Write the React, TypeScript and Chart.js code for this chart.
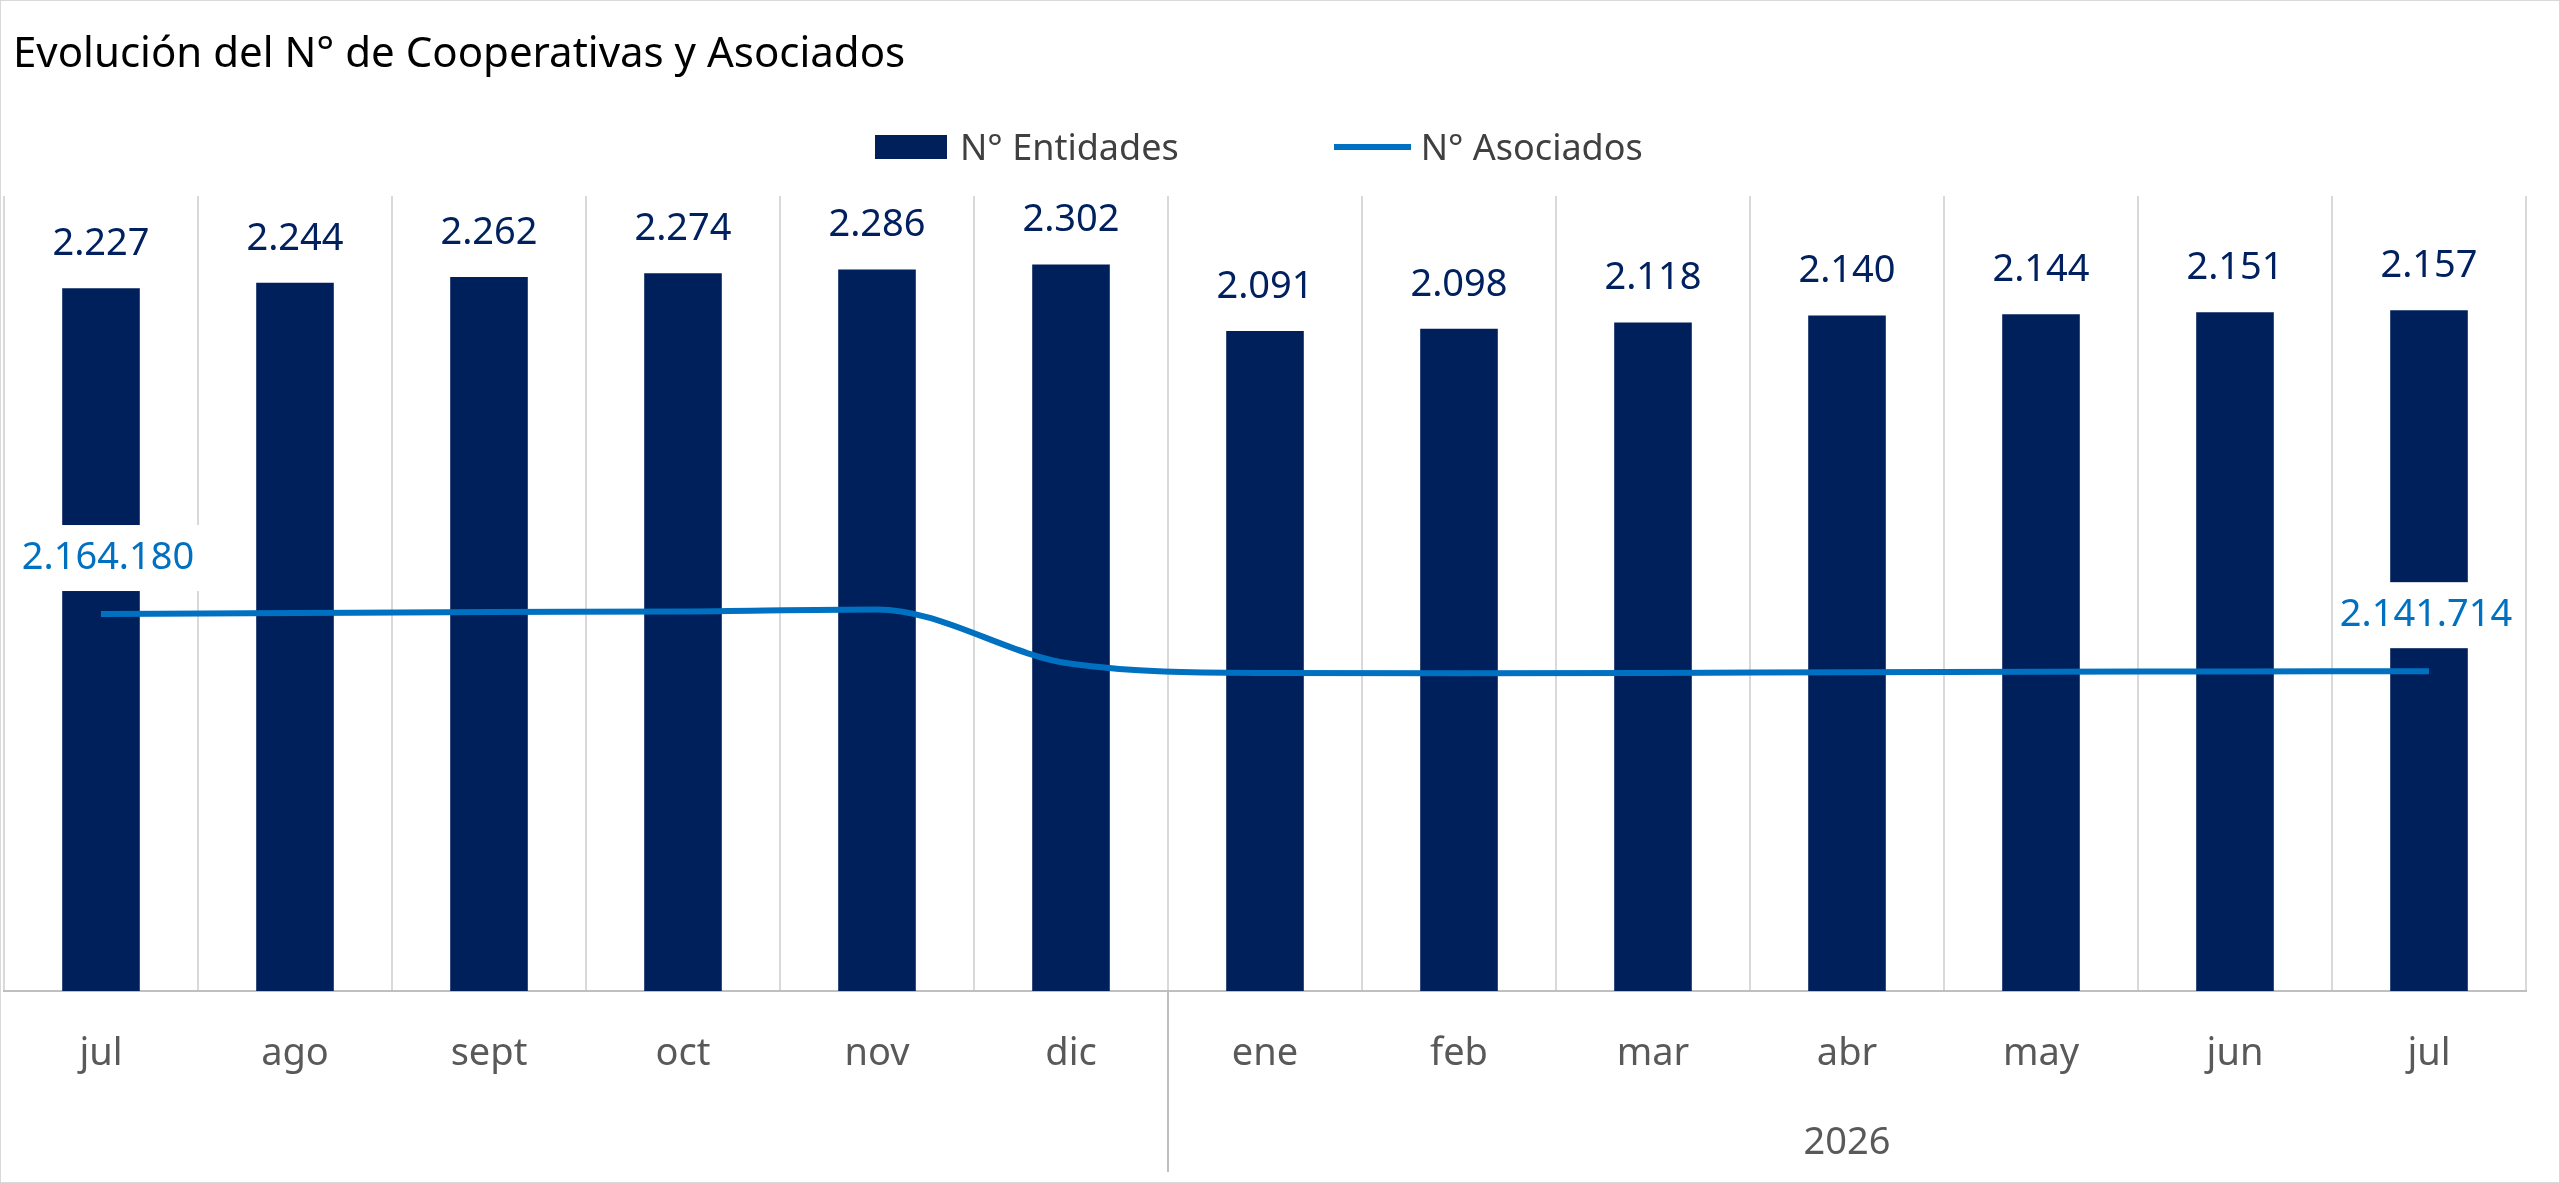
import React, { useEffect, useRef } from "react";
import { Chart, registerables } from "chart.js";
Chart.register(...registerables);

const months = ["jul", "ago", "sept", "oct", "nov", "dic", "ene", "feb", "mar", "abr", "may", "jun", "jul"];
const entidades = [2227, 2244, 2262, 2274, 2286, 2302, 2091, 2098, 2118, 2140, 2144, 2151, 2157];
const asociados = [2164180, 2164600, 2165000, 2165200, 2166000, 2144600, 2141000, 2140900, 2141000, 2141300, 2141500, 2141600, 2141714];
const yearLabel = "2026";
const yearStartIndex = 6;

const FONT = "'Noto Sans', sans-serif";
const fmt = (v: number) => v.toLocaleString("de-DE");

export default function App() {
  const ref = useRef<HTMLCanvasElement>(null);
  useEffect(() => {
    document.body.style.margin = "0";
    const labelsPlugin = {
      id: "labels",
      afterDatasetsDraw(chart: any) {
        const ctx = chart.ctx;
        ctx.save();
        const barMeta = chart.getDatasetMeta(0);
        ctx.font = `38px ${FONT}`;
        ctx.textAlign = "center";
        ctx.textBaseline = "middle";
        ctx.fillStyle = "#002060";
        barMeta.data.forEach((b: any, i: number) => {
          ctx.fillText(fmt(entidades[i]), b.x, b.y - 44);
        });
        const lineMeta = chart.getDatasetMeta(1);
        [0, asociados.length - 1].forEach((i) => {
          const p = lineMeta.data[i];
          const t = fmt(asociados[i]);
          const w = ctx.measureText(t).width;
          const x = i === 0 ? p.x + 7 : p.x - 3;
          const y = p.y - 56;
          ctx.fillStyle = "#ffffff";
          ctx.fillRect(x - w / 2 - 6, y - 33, w + 12, 66);
          ctx.fillStyle = "#0070C0";
          ctx.fillText(t, x, y);
        });
        ctx.restore();
      },
      afterDraw(chart: any) {
        const ctx = chart.ctx;
        const xs = chart.scales.x;
        const bottom = chart.chartArea.bottom;
        const step = xs.getPixelForValue(1) - xs.getPixelForValue(0);
        const sepX = xs.getPixelForValue(yearStartIndex) - step / 2;
        ctx.save();
        ctx.strokeStyle = "#bfbfbf";
        ctx.lineWidth = 2;
        ctx.beginPath();
        ctx.moveTo(sepX, bottom);
        ctx.lineTo(sepX, 1172);
        ctx.stroke();
        ctx.font = `38px ${FONT}`;
        ctx.fillStyle = "#595959";
        ctx.textAlign = "center";
        ctx.textBaseline = "middle";
        const endX = xs.getPixelForValue(months.length - 1) + step / 2;
        ctx.fillText(yearLabel, (sepX + endX) / 2, 1143);
        ctx.restore();
      },
    };
    const chart = new Chart(ref.current!, {
      type: "bar",
      data: {
        labels: months,
        datasets: [
          {
            type: "bar",
            label: "N° Entidades",
            data: entidades,
            backgroundColor: "#00205B",
            barPercentage: 0.8,
            categoryPercentage: 0.5,
            yAxisID: "y",
            order: 2,
          },
          {
            type: "line",
            label: "N° Asociados",
            data: asociados,
            borderColor: "#0070C0",
            borderWidth: 6,
            pointRadius: 0,
            tension: 0.4,
            cubicInterpolationMode: "monotone",
            yAxisID: "y1",
            order: 1,
          } as any,
        ],
      },
      options: {
        animation: false,
        responsive: false,
        layout: { padding: { top: 196, left: 4, right: 34, bottom: 0 } },
        plugins: { legend: { display: false }, title: { display: false }, tooltip: { enabled: false } },
        scales: {
          x: {
            offset: true,
            grid: { offset: true, color: "#d9d9d9", lineWidth: 2, drawTicks: false, tickBorderDash: [], },
            border: { color: "#bfbfbf", width: 2, dash: [] },
            ticks: { font: { size: 38, family: FONT }, color: "#595959", padding: 40 },
            afterFit: (a: any) => { a.height = 192; },
          } as any,
          y: { display: false, min: 0, max: 2519 },
          y1: { display: false, min: 2016000, max: 2328500 },
        },
      },
      plugins: [
        labelsPlugin,
        {
          id: "dash",
          beforeDraw(chart: any) {
            chart.options.scales.x.grid.borderDash = [10, 8];
          },
        },
      ],
    });
    (chart.options.scales as any).x.border.dash = [];
    (chart.options.scales as any).x.grid.tickBorderDash = [];
    chart.update();
    return () => chart.destroy();
  }, []);

  return (
    <div style={{ position: "relative", width: 2560, height: 1183, background: "#fff", fontFamily: FONT }}>
      <canvas ref={ref} width={2560} height={1183} style={{ position: "absolute", left: 0, top: 0, width: 2560, height: 1183 }} />
      <div style={{ position: "absolute", left: 0, top: 0, width: 2558, height: 1181, border: "1px solid #d9d9d9" }} />
      <div style={{ position: "absolute", left: 13, top: 22, fontSize: 42, color: "#000" }}>
        Evolución del N° de Cooperativas y Asociados
      </div>
      <div style={{ position: "absolute", left: 875, top: 122, fontSize: 36, color: "#404040", display: "flex", alignItems: "center" }}>
        <span style={{ display: "inline-block", width: 72, height: 24, background: "#00205B", marginRight: 13 }} />
        <span>N° Entidades</span>
        <span style={{ display: "inline-block", width: 77, height: 6, background: "#0070C0", marginLeft: 155, marginRight: 10 }} />
        <span>N° Asociados</span>
      </div>
    </div>
  );
}
